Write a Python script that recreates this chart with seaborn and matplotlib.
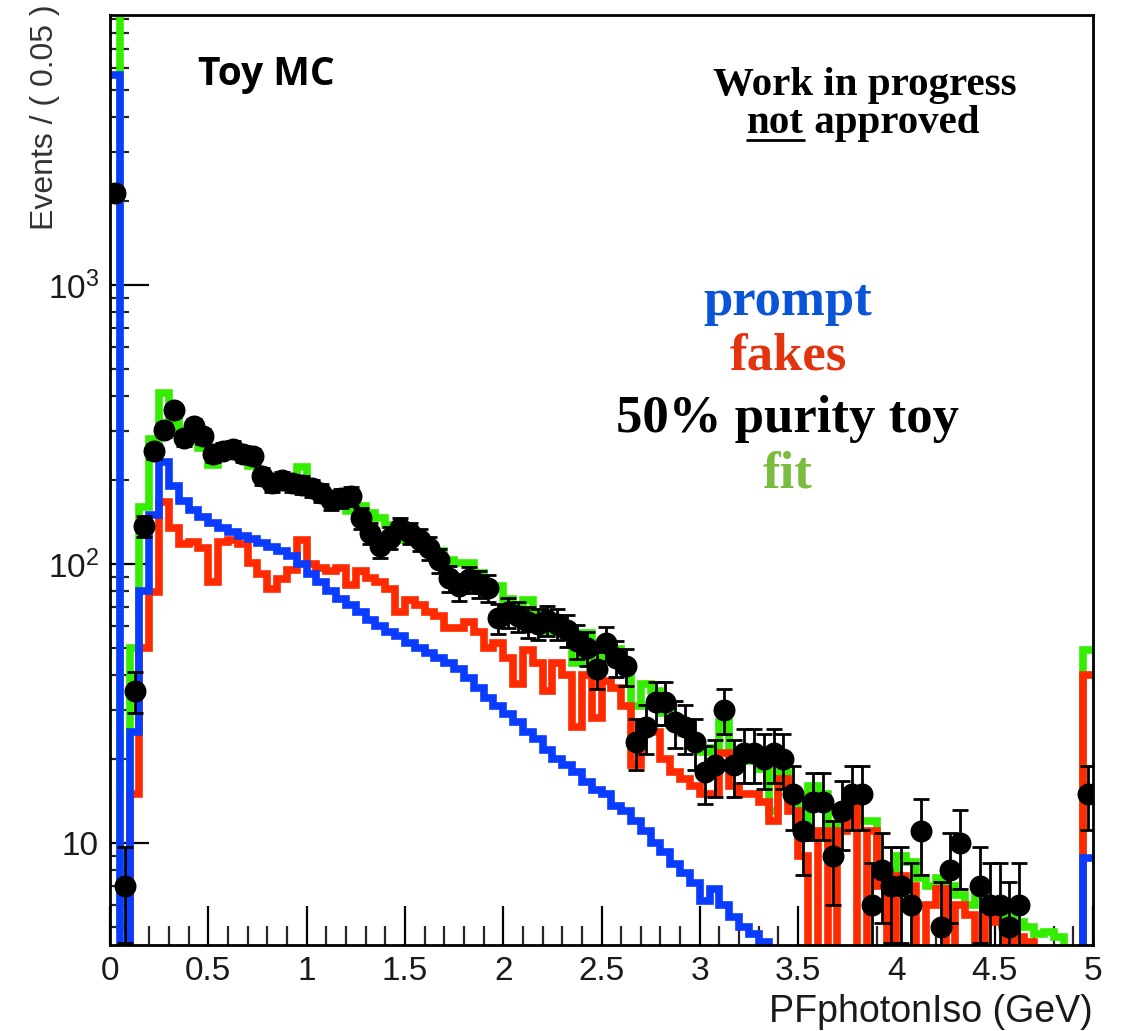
import numpy as np
import pandas as pd
import matplotlib
matplotlib.use("Agg")
import matplotlib.pyplot as plt
import seaborn as sns
from matplotlib.ticker import FixedLocator, FixedFormatter, NullFormatter
from matplotlib.lines import Line2D

# ---------------- data (0.05 wide bins from 0 to 5) ----------------
bin_width = 0.05
x_min, x_max = 0.0, 5.0

prompt = [5660, 2, 25, 80, 150, 232, 190, 168, 156, 147,
          140, 135, 130, 126, 123, 119, 115, 111, 107, 100,
          92, 86, 80, 75, 71, 67, 63, 60, 57, 55,
          52, 50, 48, 46, 44, 42, 39, 36, 33, 31,
          29, 27, 25, 23.5, 21.5, 20, 19, 18, 16.5, 15.5,
          15, 13.5, 13, 12, 11, 10, 9.3, 8.4, 7.8, 7.2,
          6.2, 6.8, 6.0, 5.4, 5.0, 4.7, 4.4, 1, 1, 1,
          1, 1, 1, 1, 1, 1, 1, 1, 1, 1,
          1, 1, 1, 1, 1, 1, 1, 1, 1, 1,
          1, 1, 1, 1, 1, 1, 1, 1, 1, 8.8]

fakes = [1, 1, 15, 50, 79, 167, 134, 118, 120, 114,
         86, 120, 122, 118, 101, 92, 81, 88, 95, 122,
         100, 97, 94, 97, 84, 94, 89, 86, 81, 67,
         74, 71, 67, 65, 59, 59, 62, 57, 50, 52,
         46, 37, 49, 44, 35, 44, 40, 26, 40, 28,
         38, 36, 31, 19, 26, 25, 20, 18, 17, 16,
         15, 15, 21, 16, 15, 15, 14, 12, 17, 13,
         9, 3, 11, 2, 11, 14, 3, 11, 7, 3,
         7.6, 7, 3, 6, 6.8, 3, 6, 5.5, 3, 5.5,
         5.2, 3, 4.6, 4.4, 1, 1, 1, 1, 1, 40]

fit = [12000, 5, 50, 160, 280, 410, 324, 286, 276, 261,
       226, 255, 252, 244, 224, 211, 196, 199, 202, 222,
       192, 183, 174, 172, 155, 161, 152, 146, 138, 122,
       126, 121, 115, 111, 103, 101, 101, 93, 83, 83,
       75, 64, 74, 67.5, 56.5, 64, 59, 44, 56.5, 43.5,
       53, 49.5, 44, 31, 37, 35, 29.3, 26.4, 24.8, 23.2,
       21.2, 21.8, 27, 21.4, 20, 19.7, 18.4, 13, 18, 14,
       12, 16, 15, 10, 12, 15, 12, 12, 8, 7.5,
       9, 8.5, 7.5, 7, 7.5, 7, 6.5, 6, 6.8, 6,
       5.8, 5.5, 5.2, 5, 4.7, 4.8, 4.6, 3, 3, 49]

toy = [2140, 7, 35, 137, 254, 303, 356, 282, 312, 287,
       248, 255, 259, 248, 243, 207, 195, 200, 195, 192,
       187, 180, 169, 172, 175, 146, 129, 116, 124, 135,
       129, 122, 114, 103, 89, 83, 88, 85, 82, 64,
       67, 65, 62, 61, 63, 61, 58, 53, 50, 42,
       52, 46, 43, 23, 26, 32, 32, 27, 26, 23,
       18, 19, 30, 19, 21, 21, 20, 21, 20, 15,
       11, 14, 14, 9, 13, 15, 15, 6, 8, 7,
       7, 6, 11, 0, 5, 8, 10, 0, 7, 6,
       6, 5, 6, 0, 0, 0, 0, 0, 0, 15]

x_major_ticks = [0, 0.5, 1, 1.5, 2, 2.5, 3, 3.5, 4, 4.5, 5]
x_tick_labels = ["0", "0.5", "1", "1.5", "2", "2.5", "3", "3.5", "4", "4.5", "5"]
y_major_ticks = [10, 100, 1000]
y_tick_labels = ["10", r"$\mathregular{10^{2}}$", r"$\mathregular{10^{3}}$"]

legend_lines = ["prompt", "fakes", "50% purity toy", "fit"]

# ---------------- style ----------------
GREEN = "#33ee00"
RED = "#ff2a00"
BLUE = "#0a3cff"
TXT_BLUE = "#0a54d8"
TXT_RED = "#e3330f"
TXT_GREEN = "#7abd3e"

sns.set_theme(style="white")
plt.rcParams["font.family"] = ["Liberation Sans", "DejaVu Sans"]
plt.rcParams["mathtext.fontset"] = "custom"
plt.rcParams["mathtext.rm"] = "Liberation Sans"

W, H = 1121, 1031
fig = plt.figure(figsize=(W / 100, H / 100), dpi=100)
fig.patch.set_facecolor("white")
ax = fig.add_axes([110 / W, 86 / H, 983 / W, 930 / H])

edges = [round(x_min + i * bin_width, 4) for i in range(len(prompt) + 1)]
centers = np.array(edges[:-1]) + bin_width / 2

hist_df = pd.DataFrame({"x": centers, "prompt": prompt, "fakes": fakes, "fit": fit})

for col, color in [("fit", GREEN), ("fakes", RED), ("prompt", BLUE)]:
    sns.histplot(data=hist_df, x="x", weights=col, bins=edges, element="step",
                 fill=False, color=color, linewidth=5.5, ax=ax,
                 solid_joinstyle="miter", solid_capstyle="butt")

toy_arr = np.array(toy, dtype=float)
mask = toy_arr > 0
pts = pd.DataFrame({"x": centers[mask], "y": toy_arr[mask]})
ax.errorbar(pts["x"], pts["y"], yerr=np.sqrt(pts["y"]), fmt="none",
            ecolor="black", elinewidth=2.0, capsize=6, capthick=2.0, zorder=4)
sns.scatterplot(data=pts, x="x", y="y", color="black", s=250, marker="o",
                edgecolor="black", linewidth=0, ax=ax, zorder=5)

ax.set_yscale("log")
ax.set_xlim(x_min, x_max)
ax.set_ylim(4.3, 9300)

ax.xaxis.set_major_locator(FixedLocator(x_major_ticks))
ax.xaxis.set_major_formatter(FixedFormatter(x_tick_labels))
ax.xaxis.set_minor_locator(FixedLocator(np.round(np.arange(0, 5.0001, 0.1), 2)))
ax.yaxis.set_major_locator(FixedLocator(y_major_ticks))
ax.yaxis.set_major_formatter(FixedFormatter(y_tick_labels))
minor_y = [m * 10 ** d for d in range(0, 4) for m in range(2, 10)]
ax.yaxis.set_minor_locator(FixedLocator(minor_y))
ax.yaxis.set_minor_formatter(NullFormatter())

ax.tick_params(axis="both", which="major", direction="in", length=28, width=1.6,
               colors="black", labelsize=24, top=False, right=False,
               bottom=True, left=True)
ax.tick_params(axis="both", which="minor", direction="in", length=14, width=1.6,
               top=False, right=False, bottom=True, left=True)
ax.tick_params(axis="x", which="major", pad=8)
ax.tick_params(axis="y", which="major", pad=8)
for lab in ax.get_xticklabels() + ax.get_yticklabels():
    lab.set_color("#1a1a1a")

for s in ax.spines.values():
    s.set_visible(True)
    s.set_color("black")
    s.set_linewidth(2.0)

ax.set_xlabel("")
ax.set_ylabel("")

def fx(px):
    return px / W

def fy(py):
    return 1 - py / H

fig.text(fx(1093), fy(1012), "PFphotonIso (GeV)", ha="right", va="center",
         fontsize=27, color="#1a1a1a")
fig.text(fx(45), fy(4), "Events / ( 0.05 )", ha="center", va="top",
         rotation=90, fontsize=23, color="#333333")

fig.text(fx(266), fy(85), "Toy MC", ha="center", va="baseline",
         fontsize=28, fontweight="bold", family=["Open Sans", "DejaVu Sans"],
         color="black")

serif = ["Liberation Serif", "DejaVu Serif"]
fig.text(fx(865), fy(95), "Work in progress", ha="center", va="baseline",
         fontsize=29.5, fontweight="bold", family=serif, color="black")
t_not = fig.text(fx(747), fy(133), "not", ha="left", va="baseline",
                 fontsize=29.5, fontweight="bold", family=serif, color="black")
fig.canvas.draw()
bb = t_not.get_window_extent()
fig.text(bb.x1 / W, fy(133), " approved", ha="left", va="baseline",
         fontsize=29.5, fontweight="bold", family=serif, color="black")
fig.add_artist(Line2D([bb.x0 / W, bb.x1 / W], [fy(140), fy(140)],
                      transform=fig.transFigure, color="black", linewidth=2))

for label, color, base in zip(legend_lines, [TXT_BLUE, TXT_RED, "black", TXT_GREEN],
                              [315, 370, 432, 487]):
    fig.text(fx(788), fy(base), label, ha="center", va="baseline",
             fontsize=38, fontweight="bold", family=serif, color=color)

fig.savefig("out.png", dpi=100, facecolor="white")
